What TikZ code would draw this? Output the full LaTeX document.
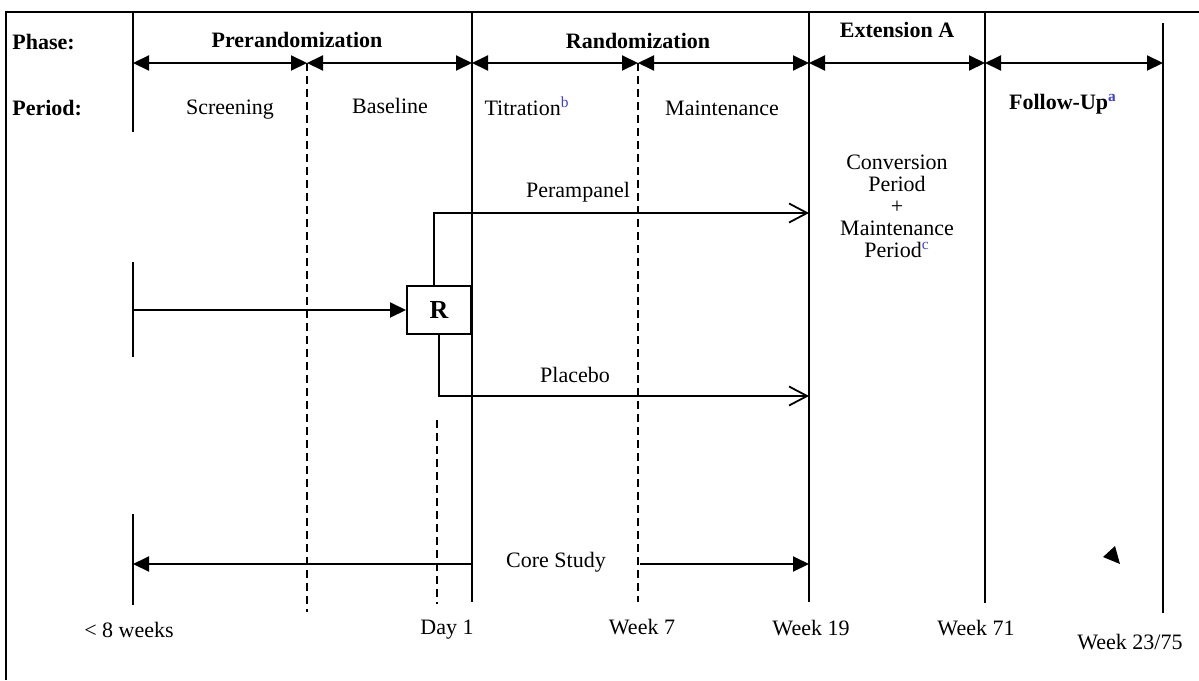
\documentclass[tikz,border=0pt]{standalone}
\usepackage{fontspec}
\setmainfont{Liberation Serif}
\usetikzlibrary{arrows.meta}
\definecolor{notecol}{RGB}{60,60,225}
\def\Ytop{12}
\def\Yspan{63}
\def\Yend{602}
\def\Ycore{564}
\tikzset{
  rule/.style={line width=1pt},
  dashrule/.style={line width=1pt, dash pattern=on 4pt off 2.5pt},
  span/.style={line width=1pt, {Triangle[length=8pt,width=7.5pt]}-{Triangle[length=8pt,width=7.5pt]}},
  fillarrow/.style={line width=1pt, -{Triangle[length=8pt,width=7.5pt]}},
  armarrow/.style={line width=0.9pt, -{Straight Barb[length=9pt,width=9.5pt]}},
  txt/.style={inner sep=0pt, font=\fontsize{11}{13}\selectfont},
  hdr/.style={inner sep=0pt, font=\fontsize{11}{13}\selectfont\bfseries},
  randbox/.style={draw, line width=1pt, minimum width=32pt, minimum height=24pt, inner sep=0pt, font=\fontsize{13}{15}\selectfont\bfseries},
}
\newcommand{\fnote}[1]{\textsuperscript{\textcolor{notecol}{#1}}}

\begin{document}
\begin{tikzpicture}[x=0.5pt,y=-0.5pt]
\useasboundingbox (0,0) rectangle (1199,680);

% frame and period rules
\draw[rule] (6,680) -- (6,\Ytop) -- (1199,\Ytop);
\draw[rule] (133,\Ytop) -- (133,132);
\draw[rule] (472,\Ytop) -- (472,\Yend);
\draw[rule] (809,\Ytop) -- (809,\Yend);
\draw[rule] (985,\Ytop) -- (985,603);
\draw[rule] (1163,23) -- (1163,613);
\draw[dashrule] (307,\Yspan) -- (307,612);
\draw[dashrule] (638,\Yspan) -- (638,\Yend);
\draw[dashrule] (437,420) -- (437,604);
\draw[rule] (133,262) -- (133,357);
\draw[rule] (133,514) -- (133,605);

% phase spans
\foreach \n/\x in {1/133,2/307,3/472,4/638,5/809,6/985,7/1163}
  \coordinate (t\n) at (\x,\Yspan);
\foreach \a/\b in {1/2,2/3,3/4,4/5,5/6,6/7}
  \draw[span] (t\a) -- (t\b);

\node[hdr, anchor=west] (phase) at (12,42) {Phase:};
\node[hdr, anchor=west] (period) at (12,108) {Period:};
\node[hdr] (prerand) at (297,40) {Prerandomization};
\node[hdr] (rand) at (638,41) {Randomization};
\node[hdr] (extA) at (897,30) {Extension A};

\node[txt] (screen) at (230,110) {Screening};
\node[txt] (base) at (390,106) {Baseline};
\node[txt] (titr) at (527,106) {Titration\fnote{b}};
\node[txt] (maint) at (722,108) {Maintenance};
\node[hdr] (follow) at (1063,104) {Follow-Up\fnote{a}};
\node[txt, align=center, font=\fontsize{11}{11}\selectfont] (conv) at (897,206)
  {Conversion\\Period\\+\\Maintenance\\Period\fnote{c}};

% randomization
\node[randbox] (rbox) at (439,310) {R};
\coordinate (scrIn) at (133,310);
\coordinate (peramEnd) at (809,213);
\coordinate (placEnd) at (809,396);
\draw[fillarrow] (scrIn) -- (rbox.west);
\draw[armarrow] ([xshift=-2.5pt]rbox.north) |- (peramEnd);
\draw[armarrow] (rbox.south) |- (placEnd);
\node[txt] (peram) at (578,192) {Perampanel};
\node[txt] (plac) at (575,375) {Placebo};

% core study
\coordinate (coreL) at (133,\Ycore);
\coordinate (coreM) at (473,\Ycore);
\coordinate (coreS) at (640,\Ycore);
\coordinate (coreR) at (809,\Ycore);
\draw[fillarrow] (coreM) -- (coreL);
\draw[fillarrow] (coreS) -- (coreR);
\node[txt] (core) at (556,562) {Core Study};
\fill (1103,557) -- (1115,546) -- (1120,564) -- cycle;

% time points
\node[txt] (w8) at (129,630) {< 8 weeks};
\node[txt] (day1) at (447,630) {Day 1};
\node[txt] (wk7) at (642,627) {Week 7};
\node[txt] (wk19) at (811,628) {Week 19};
\node[txt] (wk71) at (976,628) {Week 71};
\node[txt] (wk75) at (1130,642) {Week 23/75};
\end{tikzpicture}
\end{document}
